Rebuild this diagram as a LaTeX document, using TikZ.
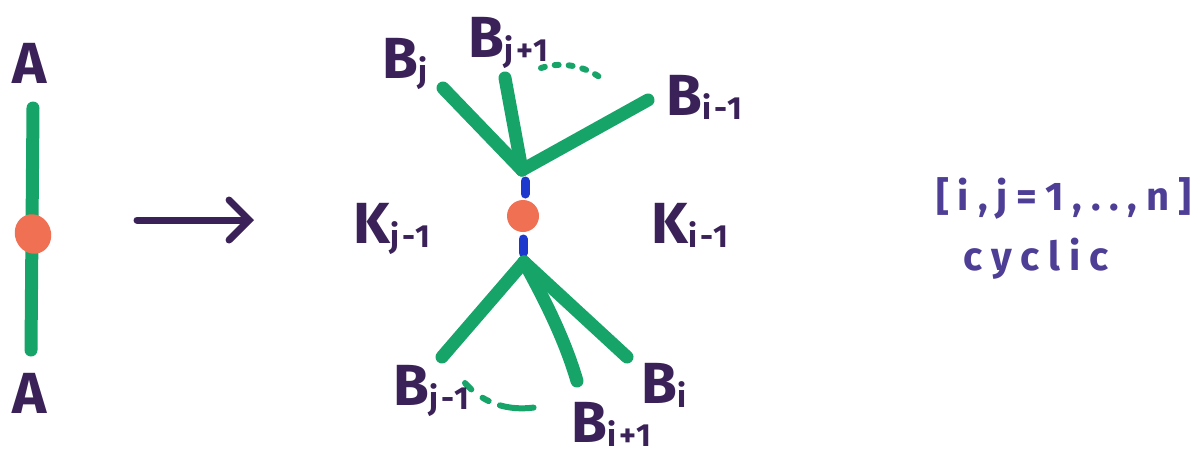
\documentclass[tikz,border=0pt]{standalone}
\usepackage{fontspec}
\setmainfont{Fira Sans}
\usetikzlibrary{arrows.meta,shapes.geometric}
\definecolor{ink}{RGB}{58,34,88}
\definecolor{violetink}{RGB}{78,62,150}
\definecolor{mgreen}{RGB}{22,164,104}
\definecolor{blob}{RGB}{240,112,84}
\definecolor{mblue}{RGB}{28,56,205}
\newcommand{\sbs}[1]{\hspace{1pt}\raisebox{-0.08em}{\fontsize{32}{32}\selectfont\addfontfeatures{LetterSpace=8}#1}}
\begin{document}
\begin{tikzpicture}[x=1pt,y=-1pt,
  edge/.style={draw=mgreen,line width=13pt,line cap=round},
  lbl/.style={text=ink,font=\fontsize{58}{58}\selectfont\bfseries,inner sep=0pt,anchor=base west},
  note/.style={text=violetink,font=\fontsize{40}{40}\selectfont\bfseries\addfontfeatures{LetterSpace=22},inner sep=0pt,anchor=base west},
  vtx/.style={ellipse,fill=blob,inner sep=0pt},
  prop/.style={draw=mblue,line width=9pt,line cap=round},
  dotarc/.style={draw=mgreen,line width=6pt,line cap=round,dash pattern=on 4pt off 10pt}]
\useasboundingbox (0,0) rectangle (1197,472);
% left graph
\node[lbl] (A1) at (12,83) {A};
\node[lbl] (A2) at (12,413) {A};
\coordinate (la) at (33,108);
\coordinate (lb) at (31,350);
\draw[edge] (la) -- (lb);
\node[vtx,minimum width=36pt,minimum height=40pt,rotate=20] (v0) at (33,234) {};
% arrow
\coordinate (ar1) at (137,220);
\coordinate (ar2) at (254,220);
\draw[draw=ink,line width=7pt,line cap=round,-{Straight Barb[length=20pt,width=40pt,line cap=round]}] (ar1) -- (ar2);
% central vertex
\coordinate (top) at (522,170);
\coordinate (bot) at (524,262);
\coordinate (p1) at (525,181);
\coordinate (p2) at (525,194);
\coordinate (p3) at (523,239);
\coordinate (p4) at (523,253);
\draw[prop] (p1) -- (p2);
\draw[prop] (p3) -- (p4);
\node[vtx,minimum width=32pt,minimum height=32pt] (v1) at (523,216) {};
% top legs
\coordinate (ej) at (443,88);
\coordinate (ej1) at (505,78);
\coordinate (ei1) at (648,100);
\draw[edge] (ej) -- (top);
\draw[edge] (ej1) -- (top);
\draw[edge] (ei1) -- (top);
\coordinate (d1) at (541,68);
\coordinate (d2) at (606,82);
\draw[dotarc] (d1) .. controls (565,60) and (590,68) .. (d2);
% bottom legs
\coordinate (ejm) at (442,357);
\coordinate (eip) at (577,381);
\coordinate (ei) at (627,357);
\draw[edge] (bot) -- (ejm);
\draw[edge] (bot) .. controls (545,300) and (565,340) .. (eip);
\draw[edge] (bot) -- (ei);
\coordinate (d3) at (465,383);
\coordinate (d4) at (543,406);
\draw[draw=mgreen,line width=6pt,line cap=round,dash pattern=on 9pt off 14pt on 7pt off 12pt on 34pt off 100pt] (d3) .. controls (480,400) and (505,414) .. (d4);
% labels
\node[lbl] (Bj) at (382,78) {B\sbs{j}};
\node[lbl] (Bj1) at (468,57) {B\sbs{j+1}};
\node[lbl] (Bi1) at (666,115) {B\sbs{i-1}};
\node[lbl] (Kj1) at (353,243) {K\sbs{j-1}};
\node[lbl] (Ki1) at (651,243) {K\sbs{i-1}};
\node[lbl] (Bjm) at (393,405) {B\sbs{j-1}};
\node[lbl] (Bip) at (571,442) {B\sbs{i+1}};
\node[lbl] (Bi) at (641,403) {B\sbs{i}};
% note
\node[note] (n1) at (936,210) {[i,j=1,..,n]};
\node[note] (n2) at (963,270) {cyclic};
\end{tikzpicture}
\end{document}
